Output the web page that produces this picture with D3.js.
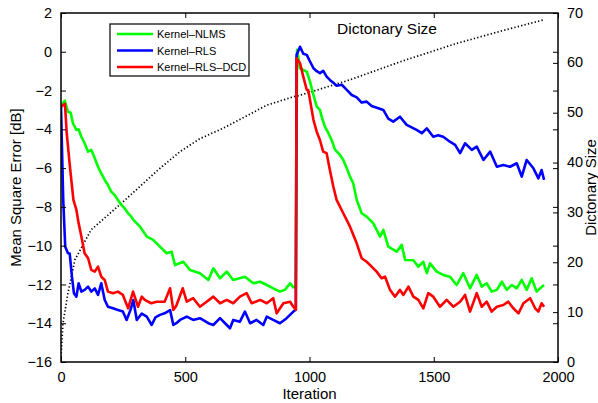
<!DOCTYPE html>
<html>
<head>
<meta charset="utf-8">
<script src="https://cdn.jsdelivr.net/npm/d3@7"></script>
<style>
  body { margin: 0; background: #fff; }
  svg text { font-family: "Liberation Sans", Arial, Helvetica, sans-serif; fill: #000; }
</style>
</head>
<body>
<svg id="chart" width="598" height="403"></svg>
<script>
/* MSE learning curves with dictionary size on the right axis */

// tick values
var xTicks = [0, 500, 1000, 1500, 2000];
var yTicks = [2, 0, -2, -4, -6, -8, -10, -12, -14, -16];
var y2Ticks = [0, 10, 20, 30, 40, 50, 60, 70];
var seriesNames = ["Kernel\u2013NLMS", "Kernel\u2013RLS", "Kernel\u2013RLS\u2013DCD"];

// [iteration, dB]
var nlmsMse = [[0,-2.75],[8,-2.65],[15,-2.52],[28,-3.09],[39,-3.14],[48,-3.69],[62,-4.03],[71,-4.0],[82,-4.38],[95,-4.72],[109,-5.15],[122,-5.06],[136,-5.49],[149,-5.93],[162,-6.27],[176,-6.61],[189,-6.87],[202,-7.21],[216,-7.39],[229,-7.64],[243,-7.9],[256,-8.07],[270,-8.33],[283,-8.5],[291,-8.67],[318,-9.02],[345,-9.53],[371,-9.7],[398,-10.05],[425,-10.39],[445,-10.31],[459,-11.0],[492,-10.83],[519,-11.25],[559,-11.42],[593,-11.77],[613,-11.17],[640,-11.68],[667,-11.34],[693,-11.77],[740,-11.6],[774,-11.94],[801,-11.86],[828,-12.03],[854,-12.2],[881,-12.37],[901,-12.28],[922,-11.94],[935,-12.15],[945,-12.1],
  [950,0.1],[962,-0.85],[975,-0.94],[989,-1.03],[1002,-1.54],[1016,-2.23],[1029,-2.83],[1042,-3.0],[1049,-3.35],[1062,-3.86],[1076,-4.2],[1089,-4.55],[1103,-5.06],[1123,-5.32],[1136,-5.58],[1150,-6.01],[1163,-6.44],[1176,-6.78],[1190,-7.64],[1210,-8.33],[1230,-8.5],[1257,-8.85],[1284,-9.53],[1297,-9.19],[1317,-10.05],[1351,-10.31],[1371,-9.96],[1385,-10.74],[1418,-10.75],[1438,-11.08],[1458,-10.83],[1472,-11.42],[1485,-10.91],[1512,-11.34],[1538,-11.51],[1565,-11.6],[1592,-12.03],[1619,-11.42],[1646,-12.2],[1673,-11.51],[1693,-12.11],[1713,-11.94],[1733,-12.37],[1754,-12.28],[1774,-11.86],[1794,-12.28],[1814,-12.03],[1834,-12.2],[1854,-11.77],[1874,-12.28],[1894,-11.68],[1914,-12.37],[1928,-12.2],[1944,-12.03]];

var rlsMse = [[0,-2.8],[4,-5.0],[9,-7.64],[17,-10.05],[28,-10.39],[35,-10.4],[44,-11.6],[52,-12.45],[62,-12.63],[71,-11.94],[82,-12.37],[95,-12.28],[109,-12.11],[122,-12.37],[136,-12.2],[149,-12.54],[162,-11.94],[176,-12.8],[189,-13.15],[209,-13.23],[229,-13.32],[249,-13.4],[264,-13.83],[280,-13.3],[291,-12.8],[305,-13.83],[325,-13.5],[345,-13.66],[365,-14.09],[380,-13.7],[398,-13.57],[417,-13.49],[439,-13.32],[452,-14.09],[464,-14.0],[479,-13.83],[506,-13.66],[532,-13.83],[559,-13.74],[593,-14.0],[613,-14.09],[640,-13.74],[660,-14.0],[680,-14.26],[693,-13.83],[720,-13.92],[740,-13.4],[761,-14.0],[787,-13.83],[814,-14.09],[828,-13.66],[854,-13.83],[881,-14.0],[908,-13.74],[935,-13.4],[945,-13.3],
  [948,-0.16],[962,0.26],[975,-0.1],[989,-0.16],[1002,-0.5],[1016,-0.85],[1029,-1.0],[1042,-1.1],[1055,-0.98],[1069,-1.28],[1082,-1.45],[1096,-1.6],[1109,-1.75],[1130,-1.7],[1150,-1.97],[1170,-2.23],[1190,-2.35],[1210,-2.62],[1230,-2.57],[1250,-2.8],[1277,-2.91],[1297,-3.0],[1317,-3.45],[1337,-3.6],[1364,-3.35],[1391,-3.77],[1411,-3.9],[1431,-4.03],[1452,-4.2],[1472,-3.95],[1498,-4.38],[1518,-4.3],[1538,-4.38],[1565,-4.64],[1586,-4.8],[1606,-5.23],[1626,-4.72],[1653,-5.06],[1673,-4.89],[1700,-5.58],[1727,-5.15],[1754,-5.93],[1780,-5.84],[1807,-5.93],[1834,-5.75],[1854,-6.44],[1874,-5.58],[1901,-6.01],[1921,-6.53],[1934,-6.1],[1944,-6.61]];

var dcdMse = [[0,-2.85],[8,-2.75],[16,-2.69],[23,-4.2],[36,-5.93],[50,-7.64],[62,-8.16],[71,-8.85],[82,-9.53],[95,-10.39],[109,-10.65],[122,-11.25],[136,-11.34],[149,-11.08],[162,-11.6],[176,-11.77],[189,-12.37],[209,-12.45],[229,-12.37],[249,-12.54],[270,-13.23],[290,-12.37],[310,-13.15],[325,-12.63],[337,-12.8],[363,-12.97],[385,-12.89],[417,-12.89],[439,-12.2],[452,-13.32],[464,-13.1],[490,-12.2],[506,-12.89],[532,-12.71],[559,-13.15],[586,-12.89],[613,-12.63],[640,-12.97],[667,-12.8],[693,-12.97],[720,-12.63],[747,-12.45],[767,-12.97],[801,-12.8],[828,-12.97],[854,-12.71],[868,-13.49],[895,-12.97],[922,-12.89],[935,-13.15],[945,-13.3],
  [948,-0.33],[962,-0.59],[975,-1.28],[989,-1.97],[995,-1.97],[1002,-2.49],[1016,-3.52],[1029,-4.12],[1042,-4.55],[1055,-5.15],[1069,-5.23],[1082,-6.1],[1096,-6.96],[1109,-7.64],[1136,-8.33],[1163,-9.02],[1190,-9.88],[1210,-10.65],[1230,-10.83],[1250,-11.08],[1270,-11.34],[1290,-11.68],[1304,-11.6],[1324,-12.28],[1344,-12.63],[1364,-12.28],[1378,-12.54],[1398,-12.11],[1418,-12.63],[1438,-12.8],[1458,-13.23],[1478,-12.45],[1498,-12.63],[1525,-13.15],[1552,-12.8],[1579,-13.15],[1606,-12.89],[1626,-12.54],[1646,-13.4],[1673,-12.45],[1693,-13.15],[1713,-12.89],[1733,-13.4],[1754,-13.15],[1780,-13.06],[1800,-12.89],[1820,-13.23],[1841,-13.49],[1861,-12.97],[1888,-12.71],[1908,-13.23],[1921,-13.4],[1934,-12.97],[1944,-13.15]];

// [iteration, dictionary size]
var dictSize = [[0,1],[8,7.8],[28,13.8],[56,20.5],[121,26.5],[201,30],[258,32.5],[390,38.5],[479,42.2],[559,44.8],[653,46.9],[828,51.5],[935,53.2],[962,53.5],[1163,56.6],[1364,60.2],[1592,63.9],[1780,66.5],[1940,68.6]];

var colors = ["#00ff00", "#0000ff", "#ff0000"];

var margin = {top: 13, left: 61, right: 40, bottom: 41};
var width = 598, height = 403;
var w = width - margin.left - margin.right;   // 497
var h = height - margin.top - margin.bottom;  // 349

var svg = d3.select("#chart");
var g = svg.append("g")
    .attr("transform", "translate(" + margin.left + "," + margin.top + ")");

var xScale = d3.scaleLinear().domain([0, 2000]).range([0, w]);
var yScale = d3.scaleLinear().domain([-16, 2]).range([h, 0]);
var y2Scale = d3.scaleLinear().domain([0, 70]).range([h, 0]);

g.append("clipPath").attr("id", "clip")
  .append("rect").attr("width", w).attr("height", h);

/* dictionary size, dotted */
var dictLine = d3.line().x(d => xScale(d[0])).y(d => y2Scale(d[1]));
g.append("path")
    .datum(dictSize)
    .attr("d", dictLine)
    .attr("fill", "none")
    .attr("stroke", "#000")
    .attr("stroke-width", 1.7)
    .attr("stroke-dasharray", "1.3,2.2")
    .attr("clip-path", "url(#clip)");

/* MSE curves */
var mseLine = d3.line().x(d => xScale(d[0])).y(d => yScale(d[1]));
[nlmsMse, rlsMse, dcdMse].forEach(function(s, i) {
    g.append("path")
        .datum(s)
        .attr("d", mseLine)
        .attr("fill", "none")
        .attr("stroke", colors[i])
        .attr("stroke-width", 2.6)
        .attr("stroke-linejoin", "round")
        .attr("clip-path", "url(#clip)");
});

/* axes, MATLAB style ticks pointing inward */
function styleAxis(sel) {
    sel.selectAll("path.domain").remove();
    sel.selectAll("line").attr("stroke", "#000").attr("stroke-width", 1);
    sel.selectAll("text").style("font-size", "14.5px").attr("fill", "#000");
}

g.append("g")
    .attr("transform", "translate(0," + h + ")")
    .call(d3.axisBottom(xScale).tickValues(xTicks).tickSize(-5).tickPadding(10).tickFormat(d3.format("d")))
    .call(styleAxis);

g.append("g")
    .call(d3.axisTop(xScale).tickValues(xTicks).tickSize(-5).tickFormat(""))
    .call(styleAxis);

g.append("g")
    .call(d3.axisLeft(yScale).tickValues(yTicks).tickSize(-5).tickPadding(9)
        .tickFormat(d => d < 0 ? "\u2212" + Math.abs(d) : d))
    .call(styleAxis);

g.append("g")
    .attr("transform", "translate(" + w + ",0)")
    .call(d3.axisRight(yScale).tickValues(yTicks).tickSize(-5).tickFormat(""))
    .call(styleAxis);

g.append("g")
    .attr("transform", "translate(" + w + ",0)")
    .call(d3.axisRight(y2Scale).tickValues(y2Ticks).tickSize(-5).tickPadding(9))
    .call(styleAxis)
    .selectAll("text").attr("dy", "0.28em");

// frame
g.append("rect")
    .attr("width", w)
    .attr("height", h)
    .attr("fill", "none")
    .attr("stroke", "#000")
    .attr("stroke-width", 1.5);

/* labels */
svg.append("text")
    .attr("x", margin.left + w / 2)
    .attr("y", 399)
    .attr("text-anchor", "middle")
    .style("font-size", "15px")
    .text("Iteration");

svg.append("text")
    .attr("transform", "translate(21," + (margin.top + h / 2) + ") rotate(-90)")
    .attr("text-anchor", "middle")
    .style("font-size", "15px")
    .text("Mean Square Error [dB]");

svg.append("text")
    .attr("transform", "translate(596," + (margin.top + h / 2) + ") rotate(-90)")
    .attr("text-anchor", "middle")
    .style("font-size", "15px")
    .text("Dictonary Size");

svg.append("text")
    .attr("x", 387)
    .attr("y", 34)
    .attr("text-anchor", "middle")
    .style("font-size", "15.5px")
    .text("Dictonary Size");

/*** legend ***/
var legend = svg.append("g").attr("transform", "translate(110,24)");
legend.append("rect")
    .attr("width", 139)
    .attr("height", 52)
    .attr("fill", "#fff")
    .attr("stroke", "#000")
    .attr("stroke-width", 1.2);

seriesNames.forEach(function(name, i) {
    var cy = 10 + i * 16.5;
    legend.append("line")
        .attr("x1", 7).attr("x2", 43)
        .attr("y1", cy).attr("y2", cy)
        .attr("stroke", colors[i])
        .attr("stroke-width", 2.4);
    legend.append("text")
        .attr("x", 47)
        .attr("y", cy + 4)
        .style("font-size", "11px")
        .text(name);
});
</script>
</body>
</html>
